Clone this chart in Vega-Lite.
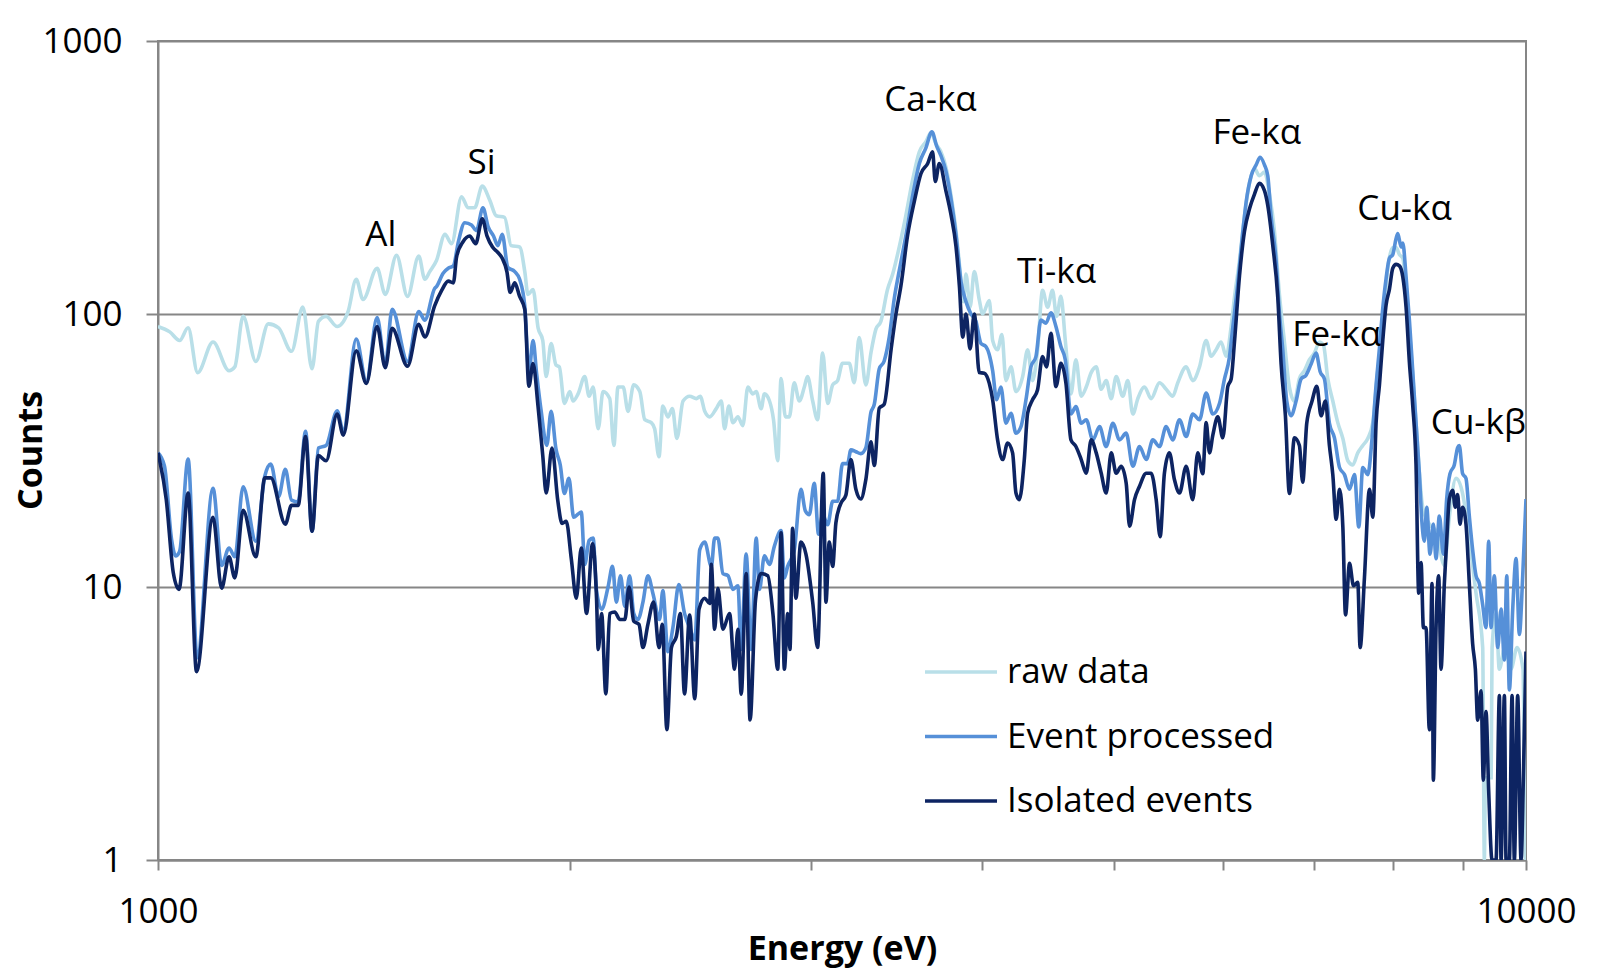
{
"$schema": "https://vega.github.io/schema/vega-lite/v6.json",
"width": 1368, "height": 819,
"autosize": {"type": "none"},
"padding": {"left": 158, "top": 41, "right": 74, "bottom": 117},
"background": "white",
"config": {
  "font": "Open Sans",
  "view": {"stroke": "#868686", "strokeWidth": 2},
  "axis": {"labelFont": "Open Sans", "labelFontSize": 35, "labelColor": "#000", "titleFont": "Open Sans", "titleFontSize": 34, "titleFontWeight": "bold", "titleColor": "#000", "domainColor": "#868686", "domainWidth": 2, "tickColor": "#868686", "tickWidth": 2, "gridColor": "#868686", "gridWidth": 2, "gridOpacity": 1, "labelFlush": false, "labelOverlap": false},
  "legend": {"labelFont": "Open Sans", "labelFontSize": 35, "labelColor": "#000", "labelLimit": 0}
},
"datasets": {
"raw": [{"e":1000,"c":90},{"e":1020,"c":86},{"e":1037,"c":80},{"e":1052,"c":89},{"e":1069,"c":61},{"e":1097,"c":79},{"e":1127,"c":62},{"e":1138,"c":64},{"e":1154,"c":98},{"e":1179,"c":67},{"e":1204,"c":92},{"e":1225,"c":89},{"e":1252,"c":73},{"e":1276,"c":106},{"e":1296,"c":63},{"e":1310,"c":94},{"e":1327,"c":98},{"e":1352,"c":90},{"e":1377,"c":102},{"e":1396,"c":134},{"e":1412,"c":113},{"e":1446,"c":147},{"e":1466,"c":118},{"e":1494,"c":164},{"e":1522,"c":116},{"e":1551,"c":163},{"e":1567,"c":134},
{"e":1580,"c":143},{"e":1598,"c":157},{"e":1621,"c":196},{"e":1639,"c":181},{"e":1667,"c":269},{"e":1685,"c":245},{"e":1704,"c":245},{"e":1726,"c":294},{"e":1748,"c":261},{"e":1767,"c":229},{"e":1792,"c":226},{"e":1812,"c":178},{"e":1838,"c":176},{"e":1854,"c":143},{"e":1864,"c":118},{"e":1880,"c":123},{"e":1896,"c":89},{"e":1911,"c":80},{"e":1922,"c":59},{"e":1938,"c":78},{"e":1954,"c":65},{"e":1965,"c":64},{"e":1982,"c":47},{"e":2000,"c":52},{"e":2011,"c":48},{"e":2028,"c":51},{"e":2051,"c":59},{"e":2066,"c":50},{"e":2080,"c":54},{"e":2098,"c":38},{"e":2115,"c":52},{"e":2139,"c":49},{"e":2154,"c":33},{"e":2169,"c":54},{"e":2188,"c":54},{"e":2206,"c":44},{"e":2227,"c":55},{"e":2250,"c":52},{"e":2269,"c":41},{"e":2294,"c":40},{"e":2307,"c":38},{"e":2324,"c":30},{"e":2339,"c":46},{"e":2359,"c":42},{"e":2377,"c":45},{"e":2395,"c":35},{"e":2420,"c":48},{"e":2447,"c":50},{"e":2475,"c":49},{"e":2491,"c":50},{"e":2510,"c":44},
{"e":2531,"c":42},{"e":2559,"c":45},{"e":2581,"c":48},{"e":2595,"c":38},{"e":2614,"c":46},{"e":2632,"c":40},{"e":2654,"c":42},{"e":2676,"c":39},{"e":2699,"c":54},{"e":2721,"c":51},{"e":2737,"c":52},{"e":2760,"c":45},{"e":2775,"c":51},{"e":2799,"c":48},{"e":2818,"c":41},{"e":2838,"c":29},{"e":2854,"c":58},{"e":2875,"c":42},{"e":2894,"c":42},{"e":2918,"c":56},{"e":2943,"c":48},{"e":2968,"c":54},{"e":2984,"c":59},{"e":3010,"c":48},{"e":3035,"c":41},{"e":3061,"c":72},{"e":3087,"c":47},{"e":3113,"c":55},{"e":3139,"c":57},{"e":3165,"c":66},{"e":3201,"c":66},{"e":3228,"c":56},{"e":3255,"c":82},{"e":3292,"c":55},{"e":3320,"c":72},{"e":3348,"c":88},{"e":3376,"c":94},{"e":3414,"c":123},{"e":3444,"c":140},{"e":3483,"c":177},{"e":3522,"c":231},{"e":3562,"c":311},{"e":3602,"c":393},{"e":3642,"c":428},{"e":3673,"c":461},{"e":3704,"c":420},{"e":3735,"c":393},{"e":3767,"c":344},{"e":3799,"c":272},{"e":3831,"c":202},{"e":3857,"c":145},{"e":3879,"c":111},{"e":3896,"c":140},{"e":3923,"c":106},{"e":3951,"c":143},{"e":3984,"c":113},
{"e":4007,"c":100},{"e":4052,"c":112},{"e":4075,"c":80},{"e":4109,"c":74},{"e":4139,"c":84},{"e":4167,"c":57},{"e":4203,"c":64},{"e":4238,"c":52},{"e":4286,"c":59},{"e":4322,"c":74},{"e":4358,"c":57},{"e":4395,"c":74},{"e":4432,"c":122},{"e":4470,"c":106},{"e":4507,"c":122},{"e":4538,"c":98},{"e":4571,"c":116},{"e":4605,"c":80},{"e":4649,"c":51},{"e":4688,"c":68},{"e":4730,"c":50},{"e":4770,"c":54},{"e":4810,"c":61},{"e":4851,"c":64},{"e":4892,"c":53},{"e":4933,"c":57},{"e":4975,"c":49},{"e":5017,"c":59},{"e":5073,"c":50},{"e":5116,"c":57},{"e":5159,"c":43},{"e":5203,"c":49},{"e":5262,"c":54},{"e":5321,"c":49},{"e":5396,"c":56},{"e":5457,"c":53},{"e":5518,"c":50},{"e":5565,"c":56},{"e":5644,"c":64},{"e":5707,"c":57},{"e":5772,"c":64},{"e":5837,"c":80},{"e":5886,"c":70},{"e":5936,"c":74},
{"e":5986,"c":79},{"e":6037,"c":70},{"e":6088,"c":90},{"e":6122,"c":115},{"e":6174,"c":157},{"e":6226,"c":228},{"e":6279,"c":302},{"e":6332,"c":341},{"e":6385,"c":321},{"e":6439,"c":331},{"e":6493,"c":275},{"e":6548,"c":201},{"e":6603,"c":118},{"e":6659,"c":79},{"e":6715,"c":54},{"e":6772,"c":48},{"e":6829,"c":58},{"e":6887,"c":62},{"e":6945,"c":68},{"e":7004,"c":72},{"e":7063,"c":79},{"e":7111,"c":77},{"e":7163,"c":58},{"e":7224,"c":48},{"e":7285,"c":40},{"e":7347,"c":35},{"e":7409,"c":29},{"e":7471,"c":28},{"e":7534,"c":31},{"e":7598,"c":33},{"e":7662,"c":35},{"e":7727,"c":40},{"e":7792,"c":62},{"e":7858,"c":84},{"e":7924,"c":147},{"e":7991,"c":175},
{"e":8036,"c":175},{"e":8081,"c":165},{"e":8127,"c":160},{"e":8172,"c":125},{"e":8218,"c":88},{"e":8264,"c":60},{"e":8310,"c":40},{"e":8404,"c":19.6},{"e":8499,"c":17},{"e":8595,"c":16},{"e":8716,"c":12},{"e":8789,"c":18},{"e":8888,"c":25},{"e":8988,"c":22},{"e":9090,"c":15},{"e":9193,"c":9.5},{"e":9297,"c":6},{"e":9323,"c":1},{"e":9340,"c":2},{"e":9430,"c":2},{"e":9445,"c":6},{"e":9510,"c":8},{"e":9560,"c":5},{"e":9650,"c":6},{"e":9750,"c":5},{"e":9850,"c":6},{"e":9950,"c":5},{"e":9990,"c":1},{"e":10000,"c":1}],
"ep": [{"e":1000,"c":31},{"e":1011,"c":27.7},{"e":1023,"c":15},{"e":1030,"c":13},{"e":1037,"c":13.5},{"e":1052,"c":29.4},{"e":1068,"c":5.5},{"e":1097,"c":23},{"e":1113,"c":12},{"e":1127,"c":13.9},{"e":1138,"c":12.9},{"e":1154,"c":23.3},{"e":1179,"c":14.7},{"e":1197,"c":25.5},{"e":1209,"c":28.2},{"e":1225,"c":21.4},{"e":1239,"c":27},{"e":1252,"c":20.8},{"e":1266,"c":20.5},{"e":1282,"c":37.2},{"e":1296,"c":16},{"e":1310,"c":32.3},{"e":1327,"c":33},{"e":1352,"c":44.2},{"e":1366,"c":37.2},{"e":1396,"c":81},{"e":1420,"c":56.5},{"e":1446,"c":97},{"e":1466,"c":65},{"e":1483,"c":104},{"e":1522,"c":67},{"e":1551,"c":102},{"e":1567,"c":95},{"e":1593,"c":124},
{"e":1598,"c":126},{"e":1616,"c":141},{"e":1630,"c":147},{"e":1644,"c":150},{"e":1658,"c":184},{"e":1676,"c":216},{"e":1695,"c":212},{"e":1709,"c":202},{"e":1728,"c":245},{"e":1743,"c":209},{"e":1759,"c":193},{"e":1772,"c":178},{"e":1785,"c":196},{"e":1802,"c":148},{"e":1823,"c":143},{"e":1838,"c":134},{"e":1854,"c":107},{"e":1867,"c":61},{"e":1880,"c":80},{"e":1891,"c":61},{"e":1906,"c":44},{"e":1924,"c":33},{"e":1938,"c":44},{"e":1954,"c":32},{"e":1968,"c":28},{"e":1982,"c":22},{"e":1997,"c":25},{"e":2013,"c":18},{"e":2028,"c":18.5},{"e":2039,"c":18.8},{"e":2051,"c":12.1},{"e":2066,"c":14.8},{"e":2080,"c":15.1},{"e":2092,"c":9.7},{"e":2110,"c":8.3},{"e":2133,"c":10},{"e":2149,"c":11.9},{"e":2163,"c":8.8},{"e":2178,"c":11},{"e":2194,"c":8.5},{"e":2212,"c":11},{"e":2227,"c":8},{"e":2243,"c":7.6},{"e":2262,"c":8.8},{"e":2281,"c":11},{"e":2301,"c":9.4},{"e":2326,"c":7.6},{"e":2339,"c":9.7},{"e":2359,"c":5.8},{"e":2379,"c":7.1},{"e":2403,"c":10.2},{"e":2426,"c":8},{"e":2447,"c":7.1},{"e":2468,"c":6.4},{"e":2489,"c":13.7},{"e":2510,"c":14.6},
{"e":2538,"c":11.9},{"e":2552,"c":15.1},{"e":2566,"c":15.1},{"e":2588,"c":11.2},{"e":2610,"c":11},{"e":2632,"c":9.8},{"e":2654,"c":10.1},{"e":2669,"c":5.9},{"e":2691,"c":13.2},{"e":2714,"c":5.9},{"e":2737,"c":15.1},{"e":2752,"c":9.8},{"e":2775,"c":13},{"e":2799,"c":12.1},{"e":2822,"c":14.1},{"e":2854,"c":16.1},{"e":2870,"c":10.8},{"e":2886,"c":11.9},{"e":2918,"c":13.6},{"e":2951,"c":22.8},{"e":2973,"c":19},{"e":2993,"c":18.4},{"e":3018,"c":24},{"e":3040,"c":15.6},{"e":3061,"c":18.4},{"e":3087,"c":16.9},{"e":3113,"c":20.6},{"e":3139,"c":20.6},{"e":3165,"c":28.3},{"e":3192,"c":28.3},{"e":3210,"c":31.8},{"e":3237,"c":31.3},{"e":3264,"c":30.8},{"e":3292,"c":32.4},{"e":3320,"c":43.6},{"e":3339,"c":46.7},{"e":3367,"c":63},{"e":3395,"c":67.3},{"e":3424,"c":82.3},{"e":3454,"c":115},{"e":3483,"c":145},{"e":3522,"c":195},{"e":3562,"c":272},{"e":3602,"c":356},{"e":3642,"c":406},{"e":3679,"c":465},{"e":3708,"c":413},{"e":3735,"c":380},{"e":3767,"c":333},{"e":3799,"c":264},{"e":3831,"c":195},{"e":3864,"c":131},{"e":3896,"c":111},{"e":3929,"c":100},{"e":3962,"c":94},{"e":3984,"c":82},
{"e":3995,"c":78},{"e":4029,"c":76},{"e":4075,"c":62},{"e":4102,"c":48.5},{"e":4132,"c":54},{"e":4167,"c":39.8},{"e":4203,"c":43.3},{"e":4238,"c":36.6},{"e":4274,"c":38.7},{"e":4310,"c":48.5},{"e":4346,"c":64},{"e":4383,"c":69.8},{"e":4420,"c":95},{"e":4457,"c":92.5},{"e":4495,"c":101},{"e":4533,"c":90},{"e":4571,"c":76},{"e":4605,"c":68},{"e":4649,"c":43},{"e":4688,"c":45.8},{"e":4730,"c":39.8},{"e":4770,"c":41},{"e":4824,"c":34.6},{"e":4878,"c":38.7},{"e":4933,"c":32.7},{"e":4989,"c":39.8},{"e":5045,"c":34.6},{"e":5102,"c":36.6},{"e":5159,"c":27.7},{"e":5218,"c":32.7},{"e":5277,"c":29.3},{"e":5336,"c":34.6},{"e":5396,"c":32.7},{"e":5457,"c":38.7},{"e":5518,"c":34.6},{"e":5581,"c":41},{"e":5644,"c":35.6},{"e":5707,"c":43},{"e":5772,"c":41},{"e":5837,"c":51.3},{"e":5903,"c":43},{"e":5970,"c":47.1},
{"e":6020,"c":57.8},{"e":6071,"c":69.8},{"e":6105,"c":89.5},{"e":6157,"c":130},{"e":6209,"c":201},{"e":6244,"c":258},{"e":6297,"c":321},{"e":6350,"c":352},{"e":6392,"c":375},{"e":6439,"c":352},{"e":6475,"c":321},{"e":6511,"c":228},{"e":6566,"c":157},{"e":6603,"c":101},{"e":6640,"c":74.3},{"e":6685,"c":48},{"e":6734,"c":42.4},{"e":6791,"c":48},{"e":6848,"c":57.8},{"e":6906,"c":59.7},{"e":6965,"c":65.6},{"e":7024,"c":72},{"e":7071,"c":61.6},{"e":7123,"c":57.8},{"e":7183,"c":39.8},{"e":7244,"c":35.2},{"e":7306,"c":27.4},{"e":7367,"c":25.8},{"e":7430,"c":22.8},{"e":7492,"c":25.8},{"e":7547,"c":16.6},{"e":7598,"c":27.4},{"e":7662,"c":25.8},{"e":7718,"c":35.2},{"e":7770,"c":55},{"e":7814,"c":75},{"e":7858,"c":105},{"e":7902,"c":135},{"e":7946,"c":160},{"e":7991,"c":165},{"e":8036,"c":189},
{"e":8059,"c":197},{"e":8104,"c":176},{"e":8127,"c":182},{"e":8172,"c":137},{"e":8218,"c":95},{"e":8264,"c":62},{"e":8310,"c":40},{"e":8357,"c":26},{"e":8395,"c":17},{"e":8428,"c":14.7},{"e":8461,"c":19.6},{"e":8508,"c":13.2},{"e":8556,"c":17},{"e":8595,"c":12.7},{"e":8643,"c":18.2},{"e":8701,"c":13.2},{"e":8750,"c":21},{"e":8799,"c":26},{"e":8863,"c":28},{"e":8913,"c":32.4},{"e":8938,"c":33},{"e":8988,"c":26},{"e":9039,"c":25},{"e":9090,"c":18.2},{"e":9141,"c":13.7},{"e":9193,"c":11},{"e":9245,"c":10.3},{"e":9297,"c":8.6},{"e":9349,"c":7.1},{"e":9391,"c":14.7},{"e":9428,"c":7.1},{"e":9481,"c":11},{"e":9535,"c":6},{"e":9589,"c":8.3},{"e":9643,"c":5.4},{"e":9681,"c":11},{"e":9724,"c":4.2},{"e":9779,"c":8.3},{"e":9834,"c":12.7},{"e":9889,"c":6.7},{"e":9945,"c":11},{"e":10000,"c":21}],
"iso": [{"e":1000,"c":31},{"e":1014,"c":20.9},{"e":1026,"c":11.3},{"e":1036,"c":9.8},{"e":1052,"c":22.1},{"e":1067,"c":4.9},{"e":1097,"c":18},{"e":1113,"c":9.9},{"e":1127,"c":12.9},{"e":1138,"c":10.8},{"e":1154,"c":19.1},{"e":1179,"c":12.9},{"e":1197,"c":25.1},{"e":1209,"c":25.1},{"e":1239,"c":17},{"e":1252,"c":19.9},{"e":1266,"c":19.9},{"e":1282,"c":35.6},{"e":1296,"c":16},{"e":1310,"c":30.3},{"e":1327,"c":29},{"e":1352,"c":43},{"e":1366,"c":36},{"e":1396,"c":73.3},{"e":1420,"c":55.7},{"e":1446,"c":90},{"e":1466,"c":63.6},{"e":1483,"c":88.6},{"e":1522,"c":64.4},{"e":1551,"c":91.7},{"e":1567,"c":82.4},{"e":1593,"c":107},
{"e":1612,"c":122},{"e":1630,"c":132},{"e":1644,"c":130},{"e":1653,"c":162},{"e":1671,"c":184},{"e":1690,"c":193},{"e":1707,"c":181},{"e":1726,"c":223},{"e":1740,"c":193},{"e":1756,"c":176},{"e":1772,"c":168},{"e":1785,"c":160},{"e":1799,"c":143},{"e":1809,"c":120},{"e":1823,"c":130},{"e":1838,"c":116},{"e":1854,"c":104},{"e":1867,"c":54.4},{"e":1880,"c":65.8},{"e":1896,"c":45.7},{"e":1911,"c":30.3},{"e":1922,"c":22.1},{"e":1941,"c":32.3},{"e":1960,"c":20.7},{"e":1974,"c":17.1},{"e":1988,"c":17.4},{"e":2005,"c":12.7},{"e":2022,"c":9.1},{"e":2039,"c":13.9},{"e":2057,"c":8},{"e":2078,"c":14.4},{"e":2092,"c":9.1},{"e":2098,"c":5.9},{"e":2110,"c":8},{"e":2125,"c":4.06},{"e":2139,"c":8},{"e":2157,"c":8.1},{"e":2176,"c":7.6},{"e":2194,"c":7.6},{"e":2210,"c":10},{"e":2227,"c":7.5},{"e":2247,"c":7.3},{"e":2262,"c":6},{"e":2281,"c":7.3},{"e":2303,"c":8.8},{"e":2324,"c":6},{"e":2337,"c":7.3},{"e":2355,"c":3},{"e":2373,"c":6},{"e":2393,"c":6.6},{"e":2409,"c":8},{"e":2426,"c":4.06},{"e":2447,"c":7.9},{"e":2468,"c":3.9},{"e":2486,"c":8.3},{"e":2510,"c":9.1},{"e":2531,"c":8.7},
{"e":2538,"c":12.1},{"e":2552,"c":7},{"e":2566,"c":9.9},{"e":2588,"c":7},{"e":2617,"c":8},{"e":2639,"c":5},{"e":2654,"c":7},{"e":2669,"c":4.05},{"e":2691,"c":11.2},{"e":2709,"c":3.26},{"e":2734,"c":9},{"e":2760,"c":11.2},{"e":2791,"c":11},{"e":2815,"c":8},{"e":2838,"c":5},{"e":2854,"c":15.8},{"e":2870,"c":5},{"e":2886,"c":8},{"e":2897,"c":5.9},{"e":2910,"c":16.4},{"e":2926,"c":9.1},{"e":2951,"c":14.6},{"e":2976,"c":13.2},{"e":3010,"c":8.8},{"e":3035,"c":6},{"e":3064,"c":26.1},{"e":3078,"c":8.8},{"e":3095,"c":14.6},{"e":3113,"c":11.9},{"e":3130,"c":17.2},{"e":3157,"c":20.3},{"e":3183,"c":21.7},{"e":3210,"c":29.3},{"e":3237,"c":22.8},{"e":3264,"c":21},{"e":3292,"c":24.8},{"e":3320,"c":34},{"e":3339,"c":27.9},{"e":3367,"c":45.2},{"e":3395,"c":46.7},{"e":3435,"c":74.5},{"e":3463,"c":100},{"e":3492,"c":127},{"e":3532,"c":195},{"e":3572,"c":259},{"e":3612,"c":327},{"e":3653,"c":356},{"e":3683,"c":393},{"e":3700,"c":306},{"e":3725,"c":356},{"e":3767,"c":282},{"e":3799,"c":231},{"e":3831,"c":177},{"e":3853,"c":127},{"e":3875,"c":82.3},{"e":3896,"c":100},{"e":3923,"c":74.5},{"e":3951,"c":100},{"e":3984,"c":61},
{"e":4018,"c":60.7},{"e":4052,"c":55.7},{"e":4075,"c":48.5},{"e":4109,"c":34.6},{"e":4144,"c":29.3},{"e":4179,"c":33.7},{"e":4214,"c":31},{"e":4238,"c":22.1},{"e":4262,"c":20.9},{"e":4298,"c":29.3},{"e":4322,"c":43.3},{"e":4358,"c":48.5},{"e":4395,"c":52.8},{"e":4432,"c":69.8},{"e":4462,"c":64},{"e":4495,"c":85},{"e":4533,"c":54.2},{"e":4571,"c":66},{"e":4610,"c":55.7},{"e":4649,"c":34.6},{"e":4688,"c":32.7},{"e":4730,"c":29.3},{"e":4770,"c":26.1},{"e":4810,"c":34.6},{"e":4851,"c":31},{"e":4892,"c":26.1},{"e":4933,"c":22.1},{"e":4975,"c":31},{"e":5017,"c":26.1},{"e":5059,"c":27.7},{"e":5102,"c":24},{"e":5131,"c":16.7},{"e":5174,"c":20.9},{"e":5218,"c":23.4},{"e":5277,"c":26.1},{"e":5321,"c":26.1},{"e":5366,"c":20.9},{"e":5402,"c":15.3},{"e":5441,"c":26.1},{"e":5487,"c":31},{"e":5534,"c":24.7},{"e":5581,"c":22.1},{"e":5644,"c":27.7},{"e":5707,"c":20.9},{"e":5755,"c":31},{"e":5804,"c":26},{"e":5837,"c":40},{"e":5870,"c":31},{"e":5903,"c":36},{"e":5953,"c":42},
{"e":6003,"c":35.2},{"e":6054,"c":54.3},{"e":6088,"c":57.8},{"e":6122,"c":79},{"e":6174,"c":138},{"e":6226,"c":201},{"e":6279,"c":243},{"e":6332,"c":275},{"e":6385,"c":301},{"e":6439,"c":283},{"e":6475,"c":250},{"e":6530,"c":178},{"e":6585,"c":115},{"e":6622,"c":65.6},{"e":6670,"c":42.4},{"e":6715,"c":22},{"e":6772,"c":35.2},{"e":6829,"c":33},{"e":6867,"c":24.2},{"e":6914,"c":39.8},{"e":6976,"c":48},{"e":7032,"c":54.3},{"e":7083,"c":42.4},{"e":7135,"c":48},{"e":7183,"c":33},{"e":7224,"c":25.8},{"e":7265,"c":17.7},{"e":7306,"c":22.8},{"e":7347,"c":16.6},{"e":7380,"c":7.9},{"e":7430,"c":12.2},{"e":7480,"c":10.1},{"e":7534,"c":10.4},{"e":7564,"c":6},{"e":7619,"c":10.8},{"e":7684,"c":22.8},{"e":7727,"c":18},{"e":7770,"c":40},{"e":7814,"c":55},{"e":7858,"c":80},{"e":7902,"c":108},
{"e":7946,"c":123},{"e":7991,"c":147},{"e":8036,"c":152},{"e":8081,"c":150},{"e":8127,"c":137},{"e":8172,"c":106},{"e":8218,"c":66.5},{"e":8264,"c":46.4},{"e":8310,"c":28.1},{"e":8348,"c":9.5},{"e":8381,"c":12.3},{"e":8414,"c":7.1},{"e":8451,"c":7.1},{"e":8499,"c":3},{"e":8537,"c":10.3},{"e":8556,"c":1.96},{"e":8595,"c":7.1},{"e":8633,"c":11},{"e":8667,"c":5},{"e":8716,"c":10.3},{"e":8750,"c":14.7},{"e":8789,"c":21},{"e":8838,"c":22.6},{"e":8878,"c":19.6},{"e":8913,"c":21.8},{"e":8948,"c":17},{"e":8988,"c":19.6},{"e":9039,"c":17},{"e":9090,"c":10.3},{"e":9141,"c":6.2},{"e":9183,"c":5},{"e":9219,"c":3.25},{"e":9271,"c":4.17},{"e":9307,"c":1.96},{"e":9349,"c":3.5},{"e":9391,"c":1.8},{"e":9444,"c":1},{"e":9508,"c":1},{"e":9562,"c":4},{"e":9589,"c":1},{"e":9643,"c":4},{"e":9670,"c":1},{"e":9724,"c":1},{"e":9768,"c":4},{"e":9806,"c":1},{"e":9861,"c":4},{"e":9917,"c":1},{"e":9956,"c":2},{"e":10000,"c":5.8}],
"lab": [{"e":1455,"c":194,"t":"Al"},{"e":1724,"c":357,"t":"Si"},{"e":3670,"c":606,"t":"Ca-kα"},{"e":4537,"c":143,"t":"Ti-kα"},{"e":6356,"c":459,"t":"Fe-kα"},{"e":8152,"c":242,"t":"Cu-kα"},{"e":7272,"c":84,"t":"Fe-kα"},{"e":9230,"c":40,"t":"Cu-kβ"}]
},
"layer": [
 {"data": {"name": "raw"}, "mark": {"type": "line", "strokeWidth": 3.6, "clip": true, "interpolate": "monotone"},
  "encoding": {
   "x": {"field": "e", "type": "quantitative", "scale": {"type": "log", "domain": [1000, 10000], "nice": false},
         "axis": {"values": [1000,2000,3000,4000,5000,6000,7000,8000,9000,10000], "format": "d", "labelExpr": "(datum.value == 1000 || datum.value == 10000) ? datum.label : ''", "tickSize": 10, "labelPadding": 24, "grid": false, "title": "Energy (eV)", "titleY": 89, "titleBaseline": "middle"}},
   "y": {"field": "c", "type": "quantitative", "scale": {"type": "log", "domain": [1, 1000], "nice": false},
         "axis": {"values": [1,10,100,1000], "format": "d", "grid": true, "tickSize": 12, "labelPadding": 24, "title": "Counts", "titleX": -127, "titleY": 409, "titleBaseline": "middle"}},
   "color": {"datum": "raw data", "type": "nominal",
     "scale": {"domain": ["raw data", "Event processed", "Isolated events"], "range": ["#B9DFE8", "#5690D8", "#0D2462"]},
     "legend": {"title": null, "orient": "none", "legendX": 765, "legendY": 593, "symbolType": "stroke", "symbolSize": 5184, "symbolStrokeWidth": 3.6, "labelOffset": 8, "rowPadding": 8.5, "padding": 0, "labelFontSize": 35, "labelLimit": 0}}
  }},
 {"data": {"name": "ep"}, "mark": {"type": "line", "strokeWidth": 3.6, "clip": true, "interpolate": "monotone"},
  "encoding": {"x": {"field": "e", "type": "quantitative"}, "y": {"field": "c", "type": "quantitative"}, "color": {"datum": "Event processed", "type": "nominal"}}},
 {"data": {"name": "iso"}, "mark": {"type": "line", "strokeWidth": 3.6, "clip": true, "interpolate": "monotone"},
  "encoding": {"x": {"field": "e", "type": "quantitative"}, "y": {"field": "c", "type": "quantitative"}, "color": {"datum": "Isolated events", "type": "nominal"}}},
 {"data": {"name": "lab"}, "mark": {"type": "text", "font": "Open Sans", "fontSize": 35, "color": "#000", "align": "center", "baseline": "middle"},
  "encoding": {"x": {"field": "e", "type": "quantitative"}, "y": {"field": "c", "type": "quantitative"}, "text": {"field": "t"}}}
]
}
